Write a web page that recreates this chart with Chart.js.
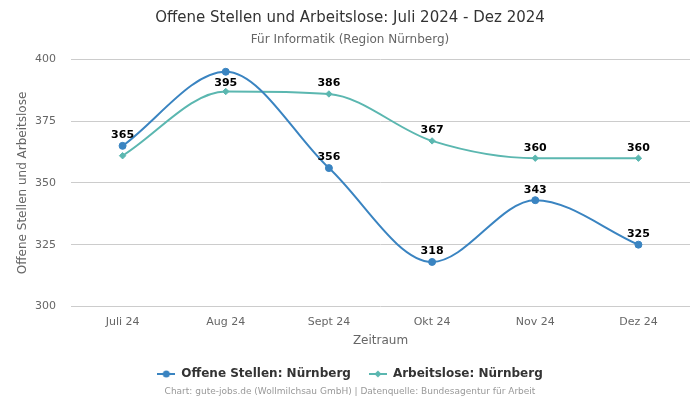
<!DOCTYPE html>
<html>
<head>
<meta charset="utf-8">
<script src="https://cdn.jsdelivr.net/npm/chart.js@4"></script>
<style>
  html, body { margin: 0; padding: 0; background: #fff; }
  #wrap { width: 700px; height: 400px; }
</style>
</head>
<body>
<div id="wrap"><canvas id="jobsChart" width="700" height="400"></canvas></div>
<script>
// data
const months = ['Juli 24', 'Aug 24', 'Sept 24', 'Okt 24', 'Nov 24', 'Dez 24'];
const offeneStellen = [365, 395, 356, 318, 343, 325];
const arbeitslose = [361, 387, 386, 367, 360, 360];
const yTicks = [300, 325, 350, 375, 400];

const blue = '#3a84c1';
const teal = '#5bb7b0';

Chart.defaults.font.family = "'DejaVu Sans', sans-serif";
Chart.defaults.color = '#666';

// value labels: which points get one, and whether above/below
const labelSpec = [
    { ds: 0, show: [true, true, true, true, true, true], below: [false, true, false, false, false, false] },
    { ds: 1, show: [false, false, true, true, true, true], below: [false, false, false, false, false, false] }
];

// legend symbol: short line with the marker in the middle
function legendIcon(color, diamond) {
    const c = document.createElement('canvas');
    c.width = 18; c.height = 10;
    const g = c.getContext('2d');
    g.strokeStyle = color; g.fillStyle = color; g.lineWidth = 2;
    g.beginPath(); g.moveTo(0, 5); g.lineTo(18, 5); g.stroke();
    g.beginPath();
    if (diamond) {
        g.moveTo(9, 1.5); g.lineTo(12.5, 5); g.lineTo(9, 8.5); g.lineTo(5.5, 5); g.closePath();
    } else {
        g.arc(9, 5, 3.5, 0, Math.PI * 2);
    }
    g.fill();
    return c;
}

const valueLabels = {
    id: 'valueLabels',
    afterDatasetsDraw(chart) {
        const ctx = chart.ctx;
        ctx.save();
        ctx.font = "bold 11px 'DejaVu Sans', sans-serif";
        ctx.fillStyle = '#000';
        ctx.textAlign = 'center';
        labelSpec.forEach(spec => {
            const meta = chart.getDatasetMeta(spec.ds);
            const vals = chart.data.datasets[spec.ds].data;
            meta.data.forEach((pt, i) => {
                if (!spec.show[i]) return;
                if (spec.below[i]) {
                    ctx.textBaseline = 'top';
                    ctx.fillText(vals[i], pt.x, pt.y + 6);
                } else {
                    ctx.textBaseline = 'bottom';
                    ctx.fillText(vals[i], pt.x, pt.y - 5);
                }
            });
        });
        ctx.restore();
    }
};

const footerNote = {
    id: 'footerNote',
    afterDraw(chart) {
        const ctx = chart.ctx;
        ctx.save();
        ctx.font = "9px 'DejaVu Sans', sans-serif";
        ctx.fillStyle = '#999';
        ctx.textAlign = 'center';
        ctx.textBaseline = 'middle';
        ctx.fillText('Chart: gute-jobs.de (Wollmilchsau GmbH) | Datenquelle: Bundesagentur für Arbeit', chart.width / 2, 392);
        ctx.restore();
    }
};

const icons = [legendIcon(blue, false), legendIcon(teal, true)];

new Chart(document.getElementById('jobsChart'), {
    type: 'line',
    data: {
        labels: months,
        datasets: [
            {
                label: 'Offene Stellen: Nürnberg',
                data: offeneStellen,
                borderColor: blue, backgroundColor: blue,
                borderWidth: 2, pointRadius: 3.5, pointHoverRadius: 3.5, pointBorderWidth: 1,
                pointStyle: 'circle', cubicInterpolationMode: 'monotone', fill: false
            },
            {
                label: 'Arbeitslose: Nürnberg',
                data: arbeitslose,
                borderColor: teal, backgroundColor: teal,
                borderWidth: 2, pointRadius: 3.2, pointHoverRadius: 3.2, pointBorderWidth: 1,
                pointStyle: 'rectRot', cubicInterpolationMode: 'monotone', fill: false
            }
        ]
    },
    options: {
        responsive: false,
        animation: false,
        layout: { padding: { left: 10, right: 10, top: 0, bottom: 10 } },
        plugins: {
            title: {
                display: true,
                text: 'Offene Stellen und Arbeitslose: Juli 2024 - Dez 2024',
                color: '#333',
                font: { size: 15, weight: 'normal' },
                padding: { top: 9, bottom: 6 }
            },
            subtitle: {
                display: true,
                text: 'Für Informatik (Region Nürnberg)',
                color: '#666',
                font: { size: 12 },
                padding: { bottom: 12 }
            },
            legend: {
                position: 'bottom',
                labels: {
                    color: '#333',
                    font: { size: 12, weight: 'bold' },
                    usePointStyle: true,
                    pointStyleWidth: 18,
                    boxHeight: 10,
                    padding: 18,
                    generateLabels: chart => Chart.defaults.plugins.legend.labels.generateLabels(chart)
                        .map((l, i) => Object.assign(l, { pointStyle: icons[i] }))
                }
            },
            tooltip: { enabled: false }
        },
        scales: {
            y: {
                min: 300, max: 400,
                afterBuildTicks: axis => { axis.ticks = yTicks.map(v => ({ value: v })); },
                afterFit: axis => { axis.width = 61; },
                grid: { color: '#ccc', drawTicks: false },
                border: { display: false },
                ticks: { color: '#666', font: { size: 11 }, padding: 15 },
                title: { display: true, text: 'Offene Stellen und Arbeitslose', color: '#666', font: { size: 12 }, padding: { top: 6, bottom: 5 } }
            },
            x: {
                offset: true,
                grid: { display: false },
                border: { display: false },
                ticks: { color: '#666', font: { size: 11 }, padding: 1 },
                title: { display: true, text: 'Zeitraum', color: '#666', font: { size: 12 }, padding: { top: 4, bottom: 2 } }
            }
        }
    },
    plugins: [valueLabels, footerNote]
});
</script>
</body>
</html>
